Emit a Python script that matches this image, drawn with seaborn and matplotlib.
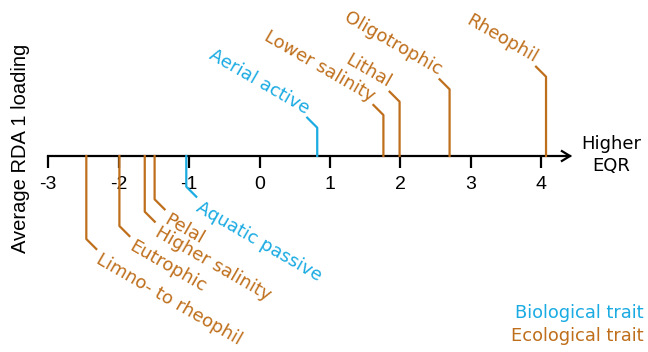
import numpy as np
import pandas as pd
import matplotlib
matplotlib.use("Agg")
import matplotlib.pyplot as plt
import seaborn as sns

# Trait loadings on RDA axis 1
traits = ["Limno- to rheophil", "Eutrophic", "Higher salinity", "Pelal",
          "Aquatic passive", "Aerial active", "Lower salinity", "Lithal",
          "Oligotrophic", "Rheophil"]
loading = [-2.46, -1.99, -1.63, -1.49, -1.04, 0.82, 1.76, 1.99, 2.70, 4.07]
kind = ["Ecological trait", "Ecological trait", "Ecological trait", "Ecological trait",
        "Biological trait", "Biological trait",
        "Ecological trait", "Ecological trait", "Ecological trait", "Ecological trait"]
tick_values = [-3, -2, -1, 0, 1, 2, 3, 4]
tick_labels = ["-3", "-2", "-1", "0", "1", "2", "3", "4"]

# Layout: stem length of each leader (pixels, + above / - below axis)
stem = [-83, -70, -55.7, -43.3, -30.7, 28.3, 41, 54.3, 66.7, 79.3]

palette = {"Biological trait": "#1AABE2", "Ecological trait": "#BF6F1C"}

W, H = 648, 352
PX = 1 / 70.4          # one pixel in x data units
X0 = 259.5             # pixel column of x = 0
Y0 = 156               # pixel row of the axis line

fig = plt.figure(figsize=(W / 100, H / 100), dpi=100)
ax = fig.add_axes([0, 0, 1, 1])
ax.set_xlim(-X0 * PX, (W - X0) * PX)
ax.set_ylim(-(H - Y0), Y0)
ax.axis("off")

# Main axis with ticks and open arrow head
tip = 4.41
axis_df = pd.DataFrame({"x": [-3, tip], "y": [0, 0]})
sns.lineplot(data=axis_df, x="x", y="y", color="black", lw=1.6, ax=ax,
             estimator=None, sort=False)
ax.plot([tip - 9 * PX, tip, tip - 9 * PX], [5.5, 0, -5.5], color="black",
        lw=1.6, solid_joinstyle="miter", solid_capstyle="butt")
for v, lab in zip(tick_values, tick_labels):
    ax.plot([v, v], [0, -12.5], color="black", lw=1.6, solid_capstyle="butt")
    ax.text(v, -20, lab, ha="center", va="top", fontsize=14,
            family="Liberation Sans", color="black")

# Leader lines: vertical stem then a short diagonal
rows = []
for t, v, s, k in zip(traits, loading, stem, kind):
    if s > 0:
        pts = [(v, 0), (v, s), (v - 10 * PX, s + 10)]
    else:
        pts = [(v, 0), (v, s), (v + 10 * PX, s - 10)]
    for px_, py_ in pts:
        rows.append({"x": px_, "y": py_, "trait": t, "kind": k})
lead = pd.DataFrame(rows)
sns.lineplot(data=lead, x="x", y="y", units="trait", hue="kind",
             palette=palette, estimator=None, sort=False, lw=1.6,
             legend=False, ax=ax, zorder=5)

for t, v, s, k in zip(traits, loading, stem, kind):
    c = palette[k]
    if s > 0:
        ax.text(v - 14 * PX, s + 10, t, rotation=-30,
                rotation_mode="anchor", ha="right", va="bottom",
                fontsize=13, family="DejaVu Sans", color=c)
    else:
        ax.text(v + 16 * PX, s - 10 - 1.5, t, rotation=-30,
                rotation_mode="anchor", ha="left", va="top",
                fontsize=13, family="DejaVu Sans", color=c)

# Axis titles
ax.text((611 - X0) * PX, Y0 - 155, "Higher\nEQR", ha="center", va="center",
        fontsize=13, family="DejaVu Sans", linespacing=1.35)
ax.text((21 - X0) * PX, Y0 - 148, "Average RDA 1 loading", rotation=90,
        ha="center", va="center", fontsize=14.5, family="Liberation Sans")

# Colour key
ax.text((644 - X0) * PX, Y0 - 318, "Biological trait", ha="right",
        va="baseline", fontsize=12.9, family="DejaVu Sans",
        color=palette["Biological trait"])
ax.text((644 - X0) * PX, Y0 - 341, "Ecological trait", ha="right",
        va="baseline", fontsize=12.9, family="DejaVu Sans",
        color=palette["Ecological trait"])

fig.savefig("out.png", dpi=100)
